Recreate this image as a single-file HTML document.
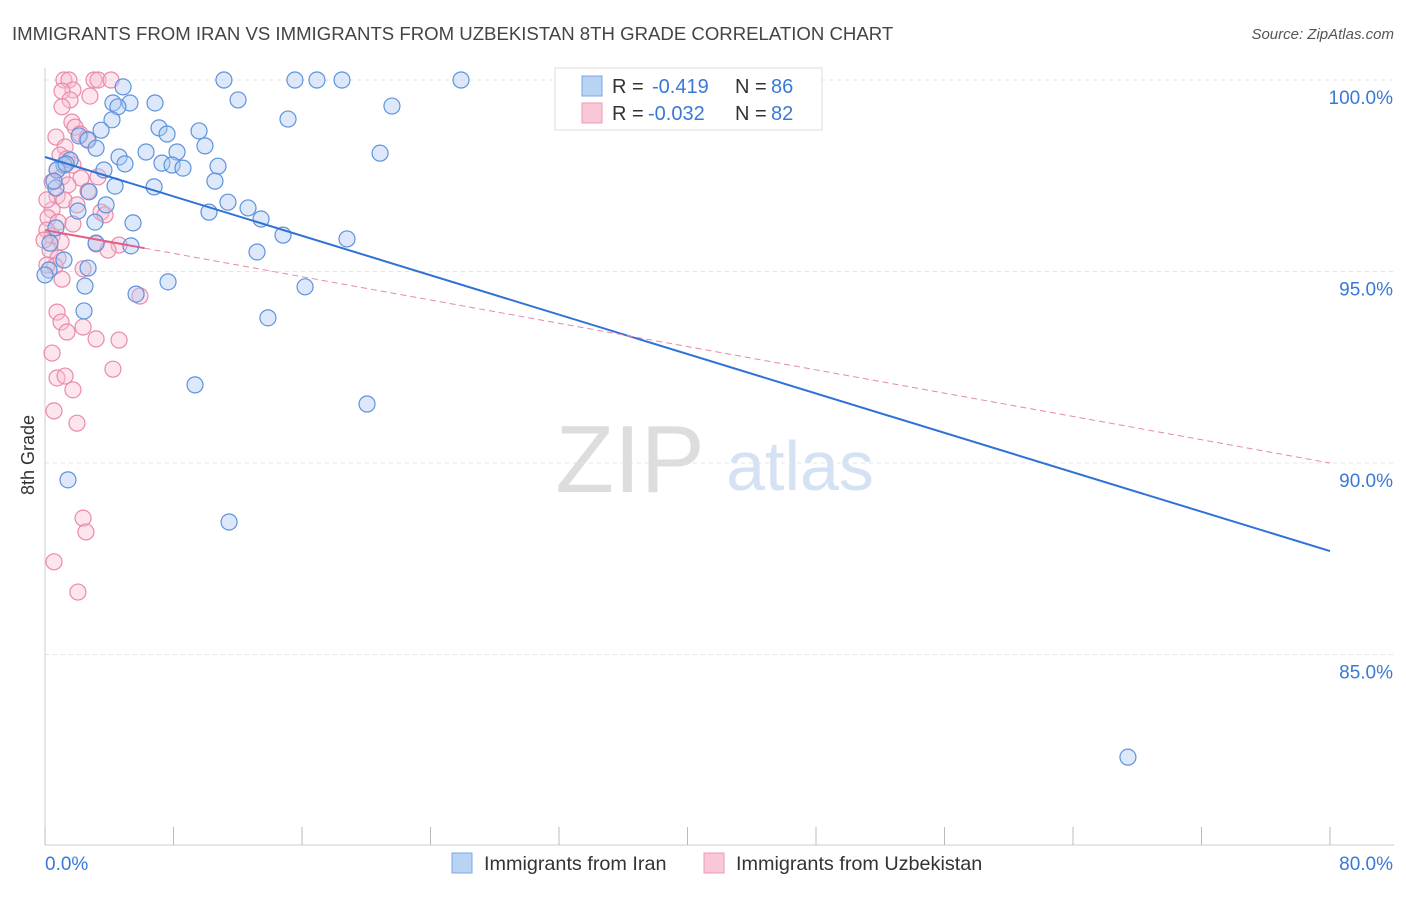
<!DOCTYPE html>
<html><head><meta charset="utf-8"><style>
body{margin:0;background:#fff;font-family:"Liberation Sans",sans-serif}
svg text{font-family:"Liberation Sans",sans-serif}
</style></head><body>
<svg id="chart" width="1406" height="892">
<text x="12" y="40" font-size="18.6" fill="#444">IMMIGRANTS FROM IRAN VS IMMIGRANTS FROM UZBEKISTAN 8TH GRADE CORRELATION CHART</text>
<text x="1394" y="39" font-size="15" fill="#555" font-style="italic" text-anchor="end">Source: ZipAtlas.com</text>
<text x="630" y="492" font-size="96" fill="#ddd" font-family="Liberation Serif" text-anchor="middle">ZIP</text>
<text x="800" y="490" font-size="70" fill="#d4e2f4" text-anchor="middle">atlas</text>
<g id="grid"></g><g id="axes"></g><g id="pts"></g><g id="lines"></g>
<text x="34" y="455" font-size="18" fill="#333" transform="rotate(-90 34 455)" text-anchor="middle">8th Grade</text>
<g>
<rect x="555" y="68" width="267" height="62" fill="#fff" stroke="#ddd"/>
<rect x="582" y="76" width="20" height="20" fill="#b9d3f5" stroke="#7aa7e6"/>
<rect x="582" y="103" width="20" height="20" fill="#f8c8d8" stroke="#ee9ab6"/>
<text x="612" y="93" font-size="20" fill="#333">R =</text>
<text x="652" y="93" font-size="20" fill="#3a78d8">-0.419</text>
<text x="735" y="93" font-size="20" fill="#333">N =</text>
<text x="771" y="93" font-size="20" fill="#3a78d8">86</text>
<text x="612" y="120" font-size="20" fill="#333">R =</text>
<text x="648" y="120" font-size="20" fill="#3a78d8">-0.032</text>
<text x="735" y="120" font-size="20" fill="#333">N =</text>
<text x="771" y="120" font-size="20" fill="#3a78d8">82</text>
</g>
<rect x="452" y="853" width="20" height="20" fill="#b9d3f5" stroke="#7aa7e6"/>
<text x="484" y="870" font-size="19.8" fill="#333">Immigrants from Iran</text>
<rect x="704" y="853" width="20" height="20" fill="#f8c8d8" stroke="#ee9ab6"/>
<text x="736" y="870" font-size="19.8" fill="#333">Immigrants from Uzbekistan</text>
</svg>
<script>
const yTicks=[100,95,90,85];
const xLabels=["0.0%","80.0%"];
const iranPx=[[224,80],[295,80],[317,80],[342,80],[461,80],[123,87],[238,100],[113,103],[130,103],[155,103],[118,107],[392,106],[288,119],[112,120],[159,128],[199,131],[167,134],[101,130],[79,136],[88,140],[205,146],[96,148],[146,152],[177,152],[380,153],[119,157],[70,160],[162,163],[125,164],[172,165],[218,166],[104,170],[183,168],[64,165],[57,170],[215,181],[115,186],[154,187],[56,188],[89,192],[228,202],[106,205],[78,211],[248,208],[209,212],[261,219],[133,223],[95,222],[283,235],[56,228],[347,239],[131,246],[50,243],[257,252],[96,243],[64,260],[88,268],[49,270],[168,282],[85,286],[305,287],[136,294],[84,311],[268,318],[195,385],[367,404],[68,480],[229,522],[1128,757],[54,181],[45,275],[66,164]];
const uzPx=[[64,80],[69,80],[94,80],[98,80],[111,80],[73,90],[62,91],[90,96],[70,100],[62,107],[72,122],[75,127],[56,137],[80,134],[87,139],[65,147],[60,155],[67,159],[73,165],[57,170],[62,177],[81,178],[52,182],[68,185],[88,191],[57,196],[64,200],[77,205],[101,212],[52,210],[48,218],[58,222],[73,224],[47,230],[52,236],[61,242],[96,244],[119,245],[108,250],[50,250],[58,258],[55,266],[47,265],[62,279],[83,269],[140,296],[57,312],[61,322],[83,327],[67,332],[96,339],[119,340],[52,353],[113,369],[57,378],[65,376],[73,390],[54,411],[77,423],[83,518],[86,532],[54,562],[78,592],[98,177],[105,215],[44,240],[47,200]];
const iranX=iranPx.map(p=>+((p[0]-45)/1285*80).toFixed(2));
const iranY=iranPx.map(p=>+(100-(p[1]-80)/38.3).toFixed(2));
const uzX=uzPx.map(p=>+((p[0]-45)/1285*80).toFixed(2));
const uzY=uzPx.map(p=>+(100-(p[1]-80)/38.3).toFixed(2));
const iranTrend=[97.99,87.7];
const uzTrend=[96.08,90.0];
const X=v=>45+v/80*1285, Y=v=>80+(100-v)*38.3;
const NS="http://www.w3.org/2000/svg";
function mk(t,a,p){const e=document.createElementNS(NS,t);for(const k in a)e.setAttribute(k,a[k]);document.getElementById(p).appendChild(e);return e;}
yTicks.forEach(t=>{
 const l=mk('line',{x1:45,x2:1394,y1:Y(t),y2:Y(t),stroke:'#e4e4e4','stroke-dasharray':'4,4'},'grid');
 
 
 const tx=mk('text',{x:1393,y:Y(t)+24,'font-size':19,fill:'#3a78d8','text-anchor':'end'},'axes');
 tx.textContent=t.toFixed(1)+'%';
 
 
});
const xa=mk('line',{x1:45,x2:1394,y1:845,y2:845,stroke:'#ccc'},'axes');


const ya=mk('line',{x1:45,x2:45,y1:68,y2:845,stroke:'#ccc'},'axes');


for(let i=0;i<=10;i++){const x=45+i*128.5;const t=mk('line',{x1:x,x2:x,y1:827,y2:845,stroke:'#bbb'},'axes');
 
 }
[[0,'start',45],[1,'end',1393]].forEach(([i,a,x])=>{const t=mk('text',{x:x,y:870,'font-size':19,fill:'#3a78d8','text-anchor':a},'axes');t.textContent=xLabels[i];
 
 });
function pts(xs,ys,fill,stroke,name){xs.forEach((v,i)=>{const c=mk('circle',{cx:X(v),cy:Y(ys[i]),r:8,fill:fill,'fill-opacity':0.4,stroke:stroke,'stroke-width':1.2},'pts');
 
 });}
pts(uzX,uzY,'#f8bfd2','#ea8aab','uzbekistan-point');
pts(iranX,iranY,'#a9c8f2','#5d93dc','iran-point');
const bl=mk('line',{x1:X(0),y1:Y(iranTrend[0]),x2:X(80),y2:Y(iranTrend[1]),stroke:'#2f72d6','stroke-width':2},'lines');


const s=(uzTrend[1]-uzTrend[0])/80;
const pl=mk('line',{x1:X(0),y1:Y(uzTrend[0]),x2:X(6.2),y2:Y(uzTrend[0]+s*6.2),stroke:'#e0608a','stroke-width':2},'lines');


const pd=mk('line',{x1:X(6.2),y1:Y(uzTrend[0]+s*6.2),x2:X(80),y2:Y(uzTrend[1]),stroke:'#e58aa8','stroke-width':1,'stroke-dasharray':'6,4'},'lines');


</script>
</body></html>
